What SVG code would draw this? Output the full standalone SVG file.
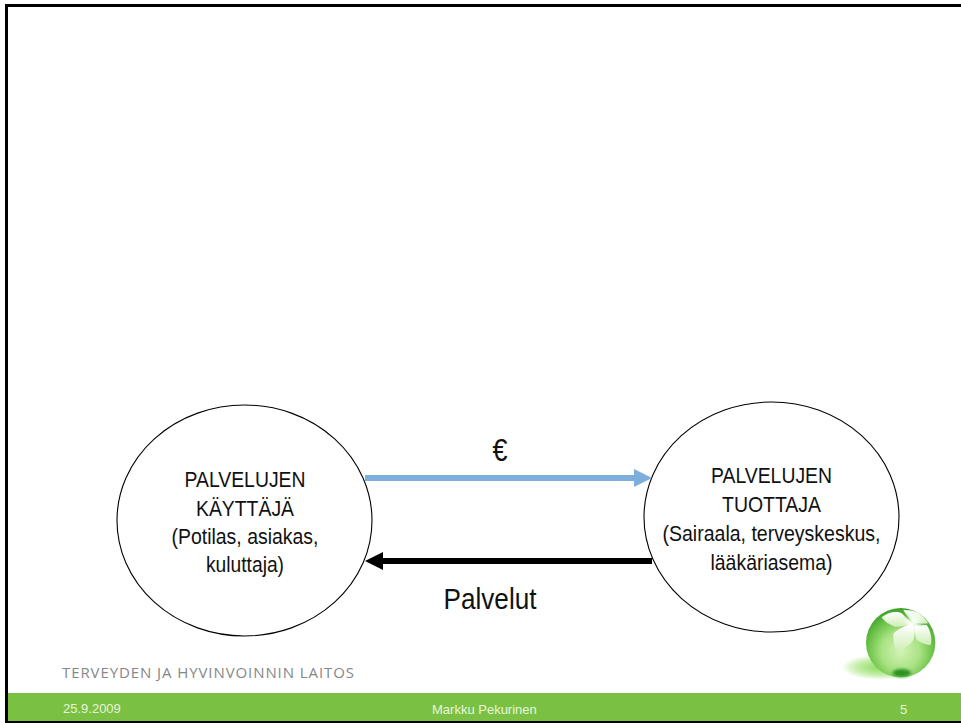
<svg xmlns="http://www.w3.org/2000/svg" width="961" height="723" viewBox="0 0 961 723">
<style>
.t{font-family:"Liberation Sans",Arial,sans-serif;fill:#111;text-anchor:middle}
.n{font-size:22px}
.f{font-family:"Liberation Sans",Arial,sans-serif;font-size:13px;fill:#e8f4dc}
.e{fill:#fff;stroke:#000;stroke-width:1.100}
.p{fill:url(#petal)}
</style>
<defs>
<radialGradient id="ball" cx="0.5" cy="0.62" r="0.62"><stop offset="0" stop-color="#d4f3b6"/><stop offset="0.45" stop-color="#a8e283"/><stop offset="0.72" stop-color="#72c64e"/><stop offset="1" stop-color="#3c9f2a"/></radialGradient>
<radialGradient id="shadow"><stop offset="0" stop-color="#8edb5e"/><stop offset="0.6" stop-color="#c4eeaa"/><stop offset="1" stop-color="#fff"/></radialGradient>
<linearGradient id="petal" x1="0" y1="0" x2="0" y2="1"><stop offset="0" stop-color="#fff"/><stop offset="1" stop-color="#cdeeb4"/></linearGradient>
<filter id="b2" x="-30%" y="-30%" width="160%" height="160%"><feGaussianBlur stdDeviation="2"/></filter>
<filter id="b4" x="-40%" y="-60%" width="180%" height="220%"><feGaussianBlur stdDeviation="4"/></filter>
<filter id="b8" x="-50%" y="-50%" width="200%" height="200%"><feGaussianBlur stdDeviation="9"/></filter>
<marker id="ab" markerUnits="userSpaceOnUse" markerWidth="18" markerHeight="18" refX="1" refY="9" orient="auto"><path d="M0 0L18 9L0 18Z" fill="#7eaedb"/></marker>
<marker id="ak" markerUnits="userSpaceOnUse" markerWidth="18" markerHeight="18" refX="1" refY="9" orient="auto"><path d="M0 0L18 9L0 18Z" fill="#000"/></marker>
</defs>
<rect width="961" height="723" fill="#fff"/>
<g id="frame">
<rect x="5" y="4" width="956" height="3" fill="#000"/>
<rect x="5" y="4" width="3" height="719" fill="#000"/>
<rect x="8" y="693" width="953" height="28" fill="#7ac143"/>
<rect x="5" y="721" width="956" height="2" fill="#000"/>
</g>
<g id="user">
<ellipse class="e" cx="244.500" cy="520.500" rx="127.500" ry="115.500"/>
<text class="t n" x="245" y="487" textLength="121" lengthAdjust="spacingAndGlyphs">PALVELUJEN</text>
<text class="t n" x="245" y="516" textLength="98" lengthAdjust="spacingAndGlyphs">KÄYTTÄJÄ</text>
<text class="t n" x="245" y="544" textLength="147" lengthAdjust="spacingAndGlyphs">(Potilas, asiakas,</text>
<text class="t n" x="245" y="572" textLength="78" lengthAdjust="spacingAndGlyphs">kuluttaja)</text>
</g>
<g id="provider">
<ellipse class="e" cx="771.500" cy="517" rx="127.500" ry="115"/>
<text class="t n" x="771.500" y="483" textLength="121" lengthAdjust="spacingAndGlyphs">PALVELUJEN</text>
<text class="t n" x="771.500" y="512" textLength="99" lengthAdjust="spacingAndGlyphs">TUOTTAJA</text>
<text class="t n" x="771.500" y="541" textLength="218" lengthAdjust="spacingAndGlyphs">(Sairaala, terveyskeskus,</text>
<text class="t n" x="771.500" y="570" textLength="122" lengthAdjust="spacingAndGlyphs">lääkäriasema)</text>
</g>
<g id="connectors">
<line x1="365" y1="478" x2="635" y2="478" stroke="#7eaedb" stroke-width="6" marker-end="url(#ab)"/>
<line x1="652" y1="561" x2="382" y2="561" stroke="#000" stroke-width="6" marker-end="url(#ak)"/>
</g>
<text class="t" x="500" y="461" font-size="31" textLength="15" lengthAdjust="spacingAndGlyphs">€</text>
<text class="t" x="490" y="609" font-size="30" textLength="93" lengthAdjust="spacingAndGlyphs">Palvelut</text>
<g id="footer">
<text x="62" y="677.500" font-family="'Open Sans','Liberation Sans',sans-serif" font-size="15" textLength="292" fill="#85878a">TERVEYDEN JA HYVINVOINNIN LAITOS</text>
<text class="f" x="63" y="713">25.9.2009</text>
<text class="f" x="432" y="714">Markku Pekurinen</text>
<text class="f" x="900" y="714">5</text>
</g>
<g id="logo" transform="translate(800 590) scale(.33333)">
<ellipse cx="240" cy="232" rx="116" ry="38" fill="url(#shadow)" filter="url(#b2)"/>
<circle cx="302" cy="158" r="104" fill="url(#ball)"/>
<ellipse cx="305" cy="249" rx="28" ry="12" fill="#2b9220" filter="url(#b4)"/>
<path class="p" d="M245 82C265 66 290 62 305 70C315 82 328 92 336 100C318 108 296 112 285 110C268 104 252 94 245 82Z"/>
<path class="p" d="M336 100C310 110 288 120 280 132C279 150 283 170 290 185C312 178 332 165 340 150C346 132 345 115 336 100Z"/>
<path class="p" d="M342 108C344 125 346 140 350 150C365 160 380 165 392 165C396 150 394 125 380 105C368 106 352 106 342 108Z"/>
<path class="p" d="M310 60C325 60 342 62 355 68C368 78 378 88 385 100C370 102 355 100 342 96C330 86 318 74 310 60Z"/>
<ellipse cx="340" cy="100" rx="20" ry="22" fill="#fff" filter="url(#b8)"/>
</g>
</svg>
